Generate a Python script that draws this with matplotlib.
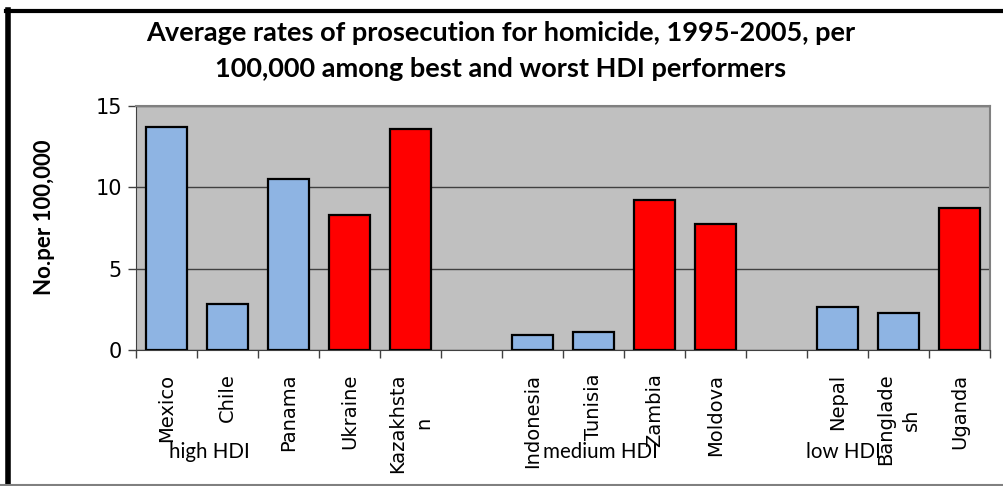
import numpy as np
import matplotlib.pyplot as plt
from matplotlib.lines import Line2D

# data ('' slots are empty gaps between the groups)
countries = ['Mexico', 'Chile', 'Panama', 'Ukraine', 'Kazakhsta\nn', '',
             'Indonesia', 'Tunisia', 'Zambia', 'Moldova', '',
             'Nepal', 'Banglade\nsh', 'Uganda']
rates = [13.7, 2.8, 10.5, 8.3, 13.6, None,
         0.95, 1.1, 9.25, 7.75, None,
         2.65, 2.25, 8.7]
worst = [0, 0, 0, 1, 1, 0, 0, 0, 1, 1, 0, 0, 0, 1]
groups = ['high HDI', 'medium HDI', 'low HDI']
group_x = [209, 600, 843]   # pixel centres of the group labels

blue = '#8EB4E3'
red = '#FF0000'

fig = plt.figure(figsize=(10.04, 4.86), dpi=100)
ax = fig.add_axes([136 / 1004, 1 - 350 / 486, 854 / 1004, 244 / 486])
ax.set_facecolor('#C0C0C0')

x = np.arange(len(countries))
keep = [i for i, r in enumerate(rates) if r is not None]
ax.bar([x[i] for i in keep], [rates[i] for i in keep], width=0.67,
       color=[red if worst[i] else blue for i in keep],
       edgecolor='black', linewidth=1.6, zorder=3)

ax.set_xlim(-0.5, len(countries) - 0.5)
ax.set_ylim(0, 15)
ax.set_yticks([0, 5, 10, 15])
ax.yaxis.grid(True, color='#404040', linewidth=1.0, zorder=1)
ax.set_axisbelow(True)

ax.set_xticks(x)
ax.set_xticklabels(countries, rotation=90, fontsize=14, family='DejaVu Sans',
                   va='top', ha='center', multialignment='center', linespacing=1.45)
ax.tick_params(axis='x', which='major', length=0, pad=17)
ax.set_xticks(np.arange(-0.5, len(countries), 1), minor=True)
ax.tick_params(axis='x', which='minor', length=6, width=1, color='#404040', direction='out')
ax.tick_params(axis='y', length=6, width=1, color='#404040', labelsize=15, pad=4)

for s in ['top', 'right']:
    ax.spines[s].set_color('#808080')
    ax.spines[s].set_linewidth(1.5)
ax.spines['left'].set_color('#404040')
ax.spines['bottom'].set_color('#404040')

for g, gx in zip(groups, group_x):
    fig.text(gx / 1004, 1 - 452 / 486, g, ha='center', va='center', fontsize=14.8, family='Lato')

fig.text(501 / 1004, 1 - 51 / 486,
         'Average rates of prosecution for homicide, 1995-2005, per\n100,000 among best and worst HDI performers',
         ha='center', va='center', fontsize=19.5, fontweight='bold', family='Lato', linespacing=1.6)

fig.text(45 / 1004, 1 - 217 / 486, 'No.per 100,000', rotation=90, ha='center', va='center',
         fontsize=16, fontweight='bold', family='Lato')

# chart border
fig.add_artist(Line2D([8 / 1004, 8 / 1004], [0, 1 - 10 / 486], transform=fig.transFigure,
                      color='black', linewidth=4))
fig.add_artist(Line2D([6 / 1004, 1], [1 - 11 / 486, 1 - 11 / 486], transform=fig.transFigure,
                      color='black', linewidth=3))
fig.add_artist(Line2D([0, 1], [1.5 / 486, 1.5 / 486], transform=fig.transFigure,
                      color='#808080', linewidth=1.5))

plt.savefig('out.png', dpi=100)
